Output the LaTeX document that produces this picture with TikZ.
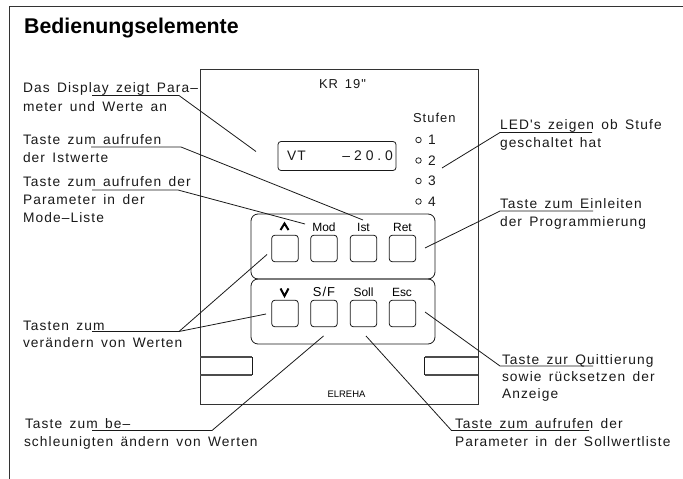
\documentclass[tikz,border=0pt]{standalone}
\usepackage{fontspec}
\setmainfont{Liberation Sans}
\newfontfamily\cadfont[LetterSpace=8,WordSpace=1.5]{Liberation Sans}
\newfontfamily\cadwide[LetterSpace=28]{Liberation Sans}
\tikzset{
  x=1bp,y=-1bp,
  ln/.style={draw=black!90,line width=0.8bp},
  frameln/.style={draw=black!80,line width=1.1bp},
  barln/.style={draw=black!70,line width=1.8bp},
  lead/.style={ln,line join=miter},
  chev/.style={draw=black,line width=2bp,line join=miter},
  cad/.style={anchor=base west,inner sep=0pt,outer sep=0pt,font=\cadfont\fontsize{13.8}{13.8}\selectfont,text=black!90},
  cadsmall/.style={cad,font=\cadfont\fontsize{13}{13}\selectfont},
  keylbl/.style={anchor=base,inner sep=0pt,font=\fontsize{12}{12}\selectfont,text=black},
  keybtn/.style={ln,rounded corners=3bp,minimum width=26.5bp,minimum height=26.5bp,inner sep=0pt},
  panel/.style={ln,rounded corners=7bp,minimum width=184bp,minimum height=65bp,inner sep=0pt},
  led/.style={draw=black!85,line width=0.8bp,circle,minimum size=5.5bp,inner sep=0pt},
}
\begin{document}
\begin{tikzpicture}
\useasboundingbox (0,0) rectangle (683,479);
% sheet frame
\coordinate (fa) at (9.5,479); \coordinate (fb) at (9.5,6.5); \coordinate (fc) at (683,6.5);
\draw[frameln] (fa) -- (fb) -- (fc);
\node[anchor=base west,inner sep=0pt,font=\bfseries\fontsize{21.4}{21.4}\selectfont] (title) at (24,33.5) {Bedienungselemente};
% device
\node[frameln,minimum width=278.5bp,minimum height=334.5bp,inner sep=0pt,anchor=north west] (device) at (199.5,69) {};
\coordinate (la) at (200,357); \coordinate (lb) at (252,357); \coordinate (lc) at (252,375); \coordinate (ld) at (200,375);
\draw[barln] (la) -- (lb); \draw[barln] (ld) -- (lc); \draw[ln] (lb) -- (lc);
\coordinate (ra) at (478,357); \coordinate (rb) at (424.5,357); \coordinate (rc) at (424.5,375); \coordinate (rd) at (478,375);
\draw[barln] (ra) -- (rb); \draw[barln] (rd) -- (rc); \draw[ln] (rb) -- (rc);
\node[cadsmall] (kr) at (319,88.5) {KR 19"};
\node[ln,rounded corners=3bp,minimum width=118bp,minimum height=29bp,inner sep=0pt] (display) at (337,156) {};
\node[cad] (vt) at (287,161) {VT};
\node[cad,anchor=base east,font=\cadwide\fontsize{14}{14}\selectfont] (val) at (393,161) {–20.0};
\node[cadsmall] (stufen) at (413,123) {Stufen};
\node[led] (l1) at (418.5,140) {}; \node[cad] (n1) at (428,145) {1};
\node[led] (l2) at (418.5,160.5) {}; \node[cad] (n2) at (428,165.5) {2};
\node[led] (l3) at (418.5,181) {}; \node[cad] (n3) at (428,186) {3};
\node[led] (l4) at (418.5,201.5) {}; \node[cad] (n4) at (428,206.5) {4};
% key panels
\node[panel] (pu) at (343,246.5) {};
\node[panel] (pl) at (343,311.5) {};
\foreach \nm/\x in {a/285,b/324,c/363.5,d/402.5}{
  \node[keybtn] (u\nm) at (\x,248.5) {};
  \node[keybtn] (d\nm) at (\x,313.5) {};
}
\coordinate (ca) at (280.5,230); \coordinate (cb) at (284.5,223.5); \coordinate (cc) at (288.5,230);
\draw[chev] (ca) -- (cb) -- (cc);
\coordinate (cd) at (280.5,288.5); \coordinate (ce) at (284.5,296); \coordinate (cf) at (288.5,288.5);
\draw[chev] (cd) -- (ce) -- (cf);
\node[keylbl] (mod) at (324,231.5) {Mod};
\node[keylbl] (ist) at (363.5,231.5) {Ist};
\node[keylbl] (ret) at (402.5,231.5) {Ret};
\node[keylbl,font=\cadfont\fontsize{13}{13}\selectfont] (sf) at (324,296.5) {S/F};
\node[keylbl] (soll) at (363.5,296.5) {Soll};
\node[keylbl] (esc) at (402,296.5) {Esc};
\node[keylbl,font=\fontsize{9.5}{9.5}\selectfont] (elr) at (346.5,397.5) {ELREHA};
% labels
\node[cad] (t1a) at (23,93) {Das Display zeigt Para–};
\node[cad] (t1b) at (23,111.5) {meter und Werte an};
\node[cad] (t2a) at (23,145) {Taste zum aufrufen};
\node[cad] (t2b) at (23,163) {der Istwerte};
\node[cad] (t3a) at (23,187) {Taste zum aufrufen der};
\node[cad] (t3b) at (23,205) {Parameter in der};
\node[cad] (t3c) at (23,222.5) {Mode–Liste};
\node[cad] (t4a) at (23,330) {Tasten zum};
\node[cad] (t4b) at (23,347.5) {verändern von Werten};
\node[cad] (t5a) at (25,428) {Taste zum be–};
\node[cad] (t5b) at (24,446) {schleunigten ändern von Werten};
\node[cad] (t6a) at (500,130) {LED's zeigen ob Stufe};
\node[cad] (t6b) at (500,148) {geschaltet hat};
\node[cad] (t7a) at (500,209) {Taste zum Einleiten};
\node[cad] (t7b) at (500,226.5) {der Programmierung};
\node[cad] (t8a) at (502,364) {Taste zur Quittierung};
\node[cad] (t8b) at (502,381) {sowie rücksetzen der};
\node[cad] (t8c) at (502,398) {Anzeige};
\node[cad] (t9a) at (455,428) {Taste zum aufrufen der};
\node[cad] (t9b) at (455,446) {Parameter in der Sollwertliste};
% leaders
\coordinate (a1) at (92,95.5); \coordinate (b1) at (179,95.5); \coordinate (c1) at (256,151.5);
\draw[lead] (a1) -- (b1) -- (c1);
\coordinate (a2) at (91,147); \coordinate (b2) at (181,147); \coordinate (c2) at (363,220);
\draw[lead] (a2) -- (b2) -- (c2);
\coordinate (a3) at (92,190); \coordinate (b3) at (178,190); \coordinate (c3) at (305,224);
\draw[lead] (a3) -- (b3) -- (c3);
\coordinate (a4) at (92,331.5); \coordinate (b4) at (179,331.5); \coordinate (c4) at (267,254.5); \coordinate (e4) at (266,314);
\draw[lead] (a4) -- (b4) -- (c4); \draw[lead] (b4) -- (e4);
\coordinate (a5) at (92,430.5); \coordinate (b5) at (212,430.5); \coordinate (c5) at (323.5,336);
\draw[lead] (a5) -- (b5) -- (c5);
\coordinate (a6) at (592,132.5); \coordinate (b6) at (500,132.5); \coordinate (c6) at (442,168);
\draw[lead] (a6) -- (b6) -- (c6);
\coordinate (a7) at (593,211); \coordinate (b7) at (500,211); \coordinate (c7) at (425,248);
\draw[lead] (a7) -- (b7) -- (c7);
\coordinate (a8) at (593,366); \coordinate (b8) at (500,366); \coordinate (c8) at (425,312);
\draw[lead] (a8) -- (b8) -- (c8);
\coordinate (a9) at (589,430.5); \coordinate (b9) at (451.5,430.5); \coordinate (c9) at (366,336);
\draw[lead] (a9) -- (b9) -- (c9);
\end{tikzpicture}
\end{document}
